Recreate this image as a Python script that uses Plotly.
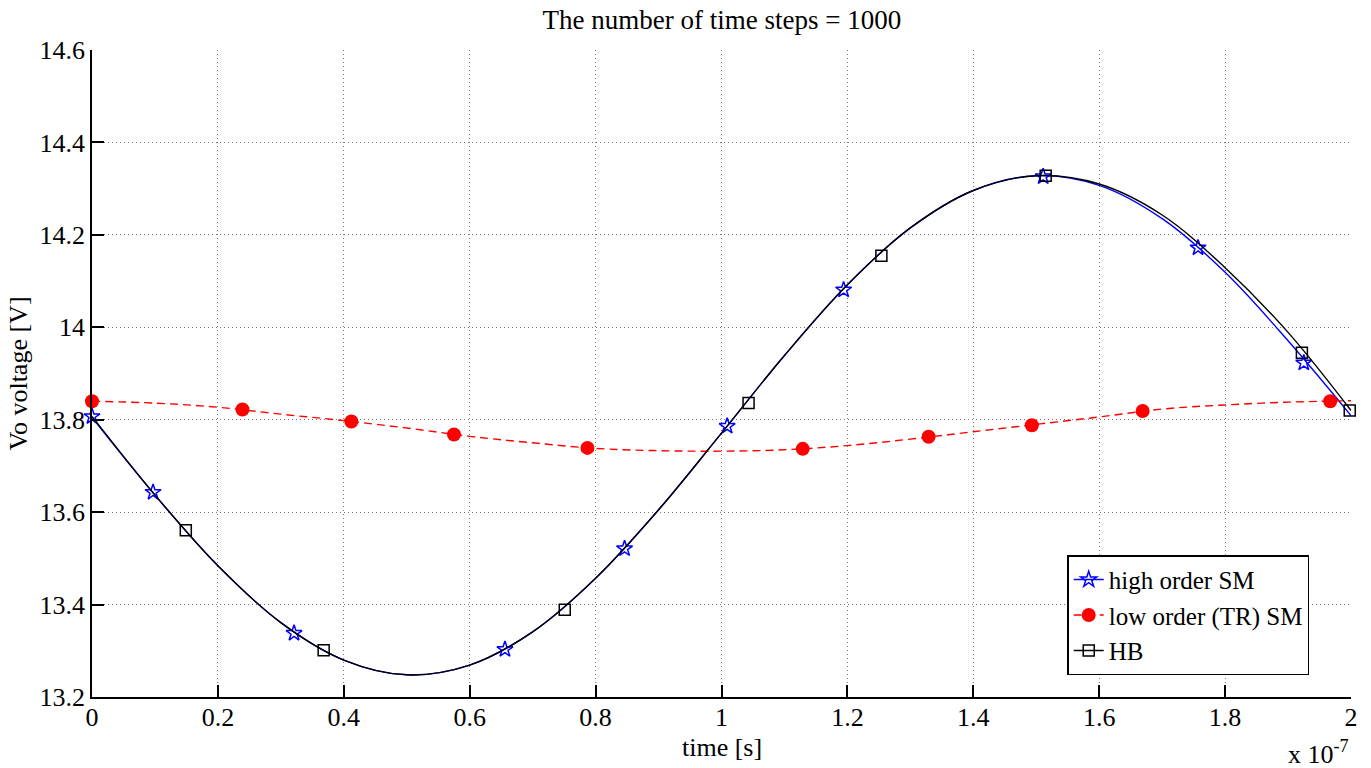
import plotly.graph_objects as go

# time axis in units of 1e-7 s
time_grid = [0.0, 0.1, 0.2, 0.3, 0.4, 0.5, 0.6, 0.7, 0.8, 0.9, 1.0,
             1.1, 1.2, 1.3, 1.4, 1.5, 1.6, 1.7, 1.8, 1.9, 2.0]

# Vo voltage [V] along the time grid
high_order_line = [13.805, 13.637, 13.484, 13.361, 13.280, 13.248, 13.269, 13.341,
                   13.457, 13.605, 13.771, 13.939, 14.092, 14.215, 14.296, 14.328,
                   14.307, 14.235, 14.119, 13.971, 13.809]
low_order_line = [13.840, 13.836, 13.827, 13.812, 13.798, 13.782, 13.764, 13.750,
                  13.738, 13.733, 13.732, 13.735, 13.744, 13.758, 13.774, 13.790,
                  13.806, 13.823, 13.832, 13.838, 13.841]
hb_line = [13.807, 13.637, 13.484, 13.361, 13.280, 13.248, 13.269, 13.341,
           13.457, 13.605, 13.771, 13.939, 14.092, 14.215, 14.296, 14.328,
           14.310, 14.243, 14.129, 13.989, 13.820]

# marker samples
high_order_mx = [0.0, 0.097, 0.321, 0.656, 0.846, 1.009, 1.194, 1.511, 1.757, 1.925]
high_order_my = [13.807, 13.643, 13.338, 13.303, 13.521, 13.786, 14.081, 14.326, 14.172, 13.923]
low_order_mx = [0.0, 0.239, 0.412, 0.575, 0.787, 1.129, 1.329, 1.493, 1.669, 1.967]
low_order_my = [13.840, 13.822, 13.796, 13.768, 13.739, 13.737, 13.763, 13.788, 13.819, 13.840]
hb_mx = [0.149, 0.368, 0.751, 1.043, 1.254, 1.515, 1.922, 1.998]
hb_my = [13.561, 13.301, 13.389, 13.836, 14.155, 14.328, 13.945, 13.820]

FONT = "Liberation Serif"
BLUE, RED, BLACK = "#0000ff", "#ff0000", "#000000"

series = [
    ("high order SM", time_grid, high_order_line, high_order_mx, high_order_my,
     BLUE, "solid", dict(symbol="star-open", size=12, color=BLUE, line=dict(color=BLUE, width=1.5))),
    ("low order (TR) SM", time_grid, low_order_line, low_order_mx, low_order_my,
     RED, "8px,5px", dict(symbol="circle", size=14, color=RED, line=dict(width=0))),
    ("HB", time_grid, hb_line, hb_mx, hb_my,
     BLACK, "solid", dict(symbol="square-open", size=11, color=BLACK, line=dict(color=BLACK, width=1.5))),
]

fig = go.Figure()
for name, lx, ly, mx, my, color, dash, marker in series:
    fig.add_trace(go.Scatter(x=lx, y=ly, mode="lines", line=dict(color=color, width=1.4, dash=dash, shape="spline"),
                             showlegend=False, hoverinfo="skip", legendgroup=name))
    fig.add_trace(go.Scatter(x=mx, y=my, mode="markers", marker=marker, showlegend=False,
                             cliponaxis=False, legendgroup=name, name=name))
    # legend entry with line + marker
    fig.add_trace(go.Scatter(x=[None], y=[None], mode="lines+markers", name=name, legendgroup=name,
                             line=dict(color=color, width=1.4, dash=dash), marker=marker))

axis_common = dict(
    showline=True, linecolor="black", linewidth=1.5, mirror=False,
    ticks="inside", ticklen=12, tickwidth=1.5, tickcolor="black",
    showgrid=True, gridcolor="#7a7a7a", gridwidth=1, griddash="1px,3px",
    zeroline=False, tickfont=dict(family=FONT, size=26, color="black"),
)

fig.update_layout(
    width=1371, height=768,
    margin=dict(l=92, r=20, t=50, b=71),
    paper_bgcolor="white", plot_bgcolor="white",
    font=dict(family=FONT, size=26, color="black"),
    title=dict(text="The number of time steps = 1000", x=0.5265, xanchor="center",
               y=1 - 20 / 768, yanchor="middle", font=dict(family=FONT, size=27, color="black")),
    xaxis=dict(range=[0, 2], dtick=0.2, tick0=0, ticklabelstandoff=-4, **axis_common),
    yaxis=dict(range=[13.2, 14.6], dtick=0.2, tick0=13.2, **axis_common),
    legend=dict(x=0.7746, y=0.219, xanchor="left", yanchor="top",
                bgcolor="white", bordercolor="black", borderwidth=1.5,
                font=dict(family=FONT, size=25, color="black"),
                tracegroupgap=0, itemwidth=30),
    showlegend=True,
    annotations=[
        dict(text="time [s]", xref="paper", yref="paper", x=0.5, y=-(747 - 697) / 647,
             xanchor="center", yanchor="middle", showarrow=False, font=dict(family=FONT, size=26)),
        dict(text="Vo voltage [V]", xref="paper", yref="paper", x=(18 - 92) / 1259, y=0.5,
             xanchor="center", yanchor="middle", textangle=-90, showarrow=False,
             font=dict(family=FONT, size=26)),
        dict(text="x 10<sup>-7</sup>", xref="paper", yref="paper", x=1.0, y=-(752 - 697) / 647,
             xanchor="right", yanchor="middle", showarrow=False, font=dict(family=FONT, size=26)),
    ],
)

fig.write_html("out.html")
